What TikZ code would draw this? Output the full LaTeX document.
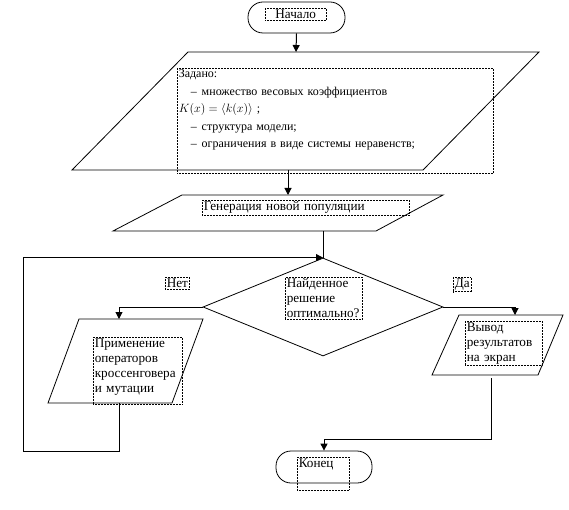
\documentclass[tikz,border=0pt]{standalone}
\usepackage{fontspec}
\setmainfont{Liberation Serif}
\usetikzlibrary{positioning,arrows.meta,shapes.geometric}

\begin{document}
\begin{tikzpicture}[x=1pt,y=-1pt,
  term/.style={draw, line width=0.8pt, rounded corners=15pt, inner sep=0pt},
  iobox/.style={draw, line width=0.8pt, line join=miter},
  cond/.style={draw, line width=0.8pt, diamond, inner sep=0pt, minimum width=240pt, minimum height=98pt},
  txt/.style={draw, densely dotted, line width=0.5pt, anchor=north west, inner sep=1.5pt, align=left,
    font=\fontsize{13.2}{15}\selectfont},
  arrow/.style={-{Triangle[width=7pt,length=7pt]}, line width=1pt},
  line/.style={line width=1pt}
]
\useasboundingbox (0,0) rectangle (569,510);

\node[term, minimum width=97pt, minimum height=31pt] (start) at (296.5,17.5) {};
\node[txt, text width=58pt, align=center] (startText) at (265,8) {Начало};

\draw[iobox] (72,170) -- (188,52) -- (539,52) -- (423,170) -- cycle;
\coordinate (dataTop) at (296,52);
\coordinate (dataOut) at (288,170);
\node[txt, text width=313pt, font=\fontsize{12}{17.5}\selectfont] (dataText) at (177,68)
  {Задано:\\
   \hspace*{12pt}–\hspace{5pt}множество весовых коэффициентов\\
   $K(x)=\left\langle k(x)\right\rangle$ ;\\
   \hspace*{12pt}–\hspace{5pt}структура модели;\\
   \hspace*{12pt}–\hspace{5pt}ограничения в виде системы неравенств;\rule[-24pt]{0pt}{0pt}};

\draw[iobox] (113,231) -- (182,195) -- (443,195) -- (376,231) -- cycle;
\coordinate (genTop) at (288,195);
\coordinate (genOut) at (323,231);
\node[txt, text width=204pt] (genText) at (202,200) {Генерация новой популяции};

\node[cond] (check) at (323,307) {};
\node[txt, text width=74pt] (checkText) at (285,277) {Найденное\\решение\\оптимально?};
\node[txt] (noText) at (165,277) {Нет};
\node[txt] (yesText) at (453,277) {Да};

\draw[iobox] (48,403) -- (79,319) -- (203,319) -- (172,403) -- cycle;
\coordinate (applyTop) at (119,319);
\coordinate (applyOut) at (119,403);
\node[txt, text width=86pt] (applyText) at (93,337)
  {Применение\\операторов\\кроссенговера\\и мутации\rule[-10pt]{0pt}{0pt}};

\draw[iobox] (432,375) -- (459,315) -- (563,315) -- (538,375) -- cycle;
\coordinate (resTop) at (515,315);
\coordinate (resOut) at (491,378);
\node[txt, text width=74pt] (resText) at (465,321) {Вывод\\результатов\\на экран};

\node[term, minimum width=96pt, minimum height=32pt] (finish) at (324,467) {};
\node[txt, text width=49pt, text depth=21pt] (finishText) at (297,457) {Конец};

\coordinate (loopCorner) at (23,451);
\coordinate (resTurn) at (491,439);

\draw[arrow] (start.south) -- (dataTop);
\draw[arrow] (dataOut) -- (genTop);
\draw[line] (genOut) -- (check.north);
\draw[arrow] (check.west) -| (applyTop);
\draw[arrow] (check.east) -| (resTop);
\draw[arrow] (applyOut) |- (loopCorner) |- (check.north);
\draw[arrow] (resOut) -- (resTurn) -| (finish.north);
\end{tikzpicture}
\end{document}
